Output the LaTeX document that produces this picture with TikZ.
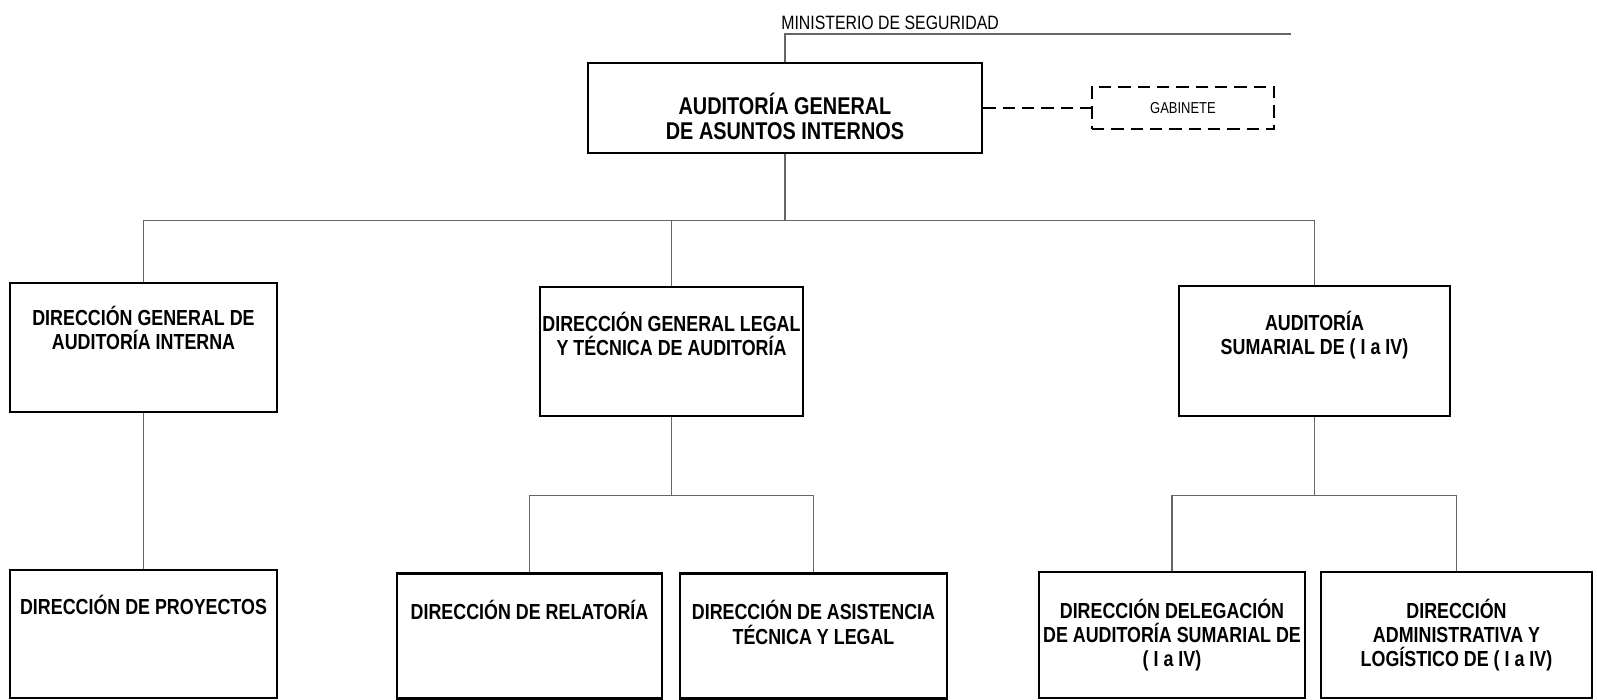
\documentclass[tikz,border=0pt]{standalone}
\usepackage{fontspec}
\setmainfont{Liberation Sans}[FakeStretch=0.82]
\tikzset{
    box/.style={draw, line width=1.6pt, inner sep=0pt},
    gabbox/.style={draw, line width=1.4pt, dash pattern=on 7pt off 4pt, inner sep=0pt},
    link/.style={draw=black!60, line width=0.6pt},
    dashlink/.style={line width=1.4pt, dash pattern=on 7pt off 4pt},
    boxtext/.style={align=center, inner sep=0pt, anchor=north,
        font=\bfseries\fontsize{12.4}{13.8}\selectfont},
}

\begin{document}
\begin{tikzpicture}[x=0.02cm, y=-0.02cm]
\useasboundingbox (0,0) rectangle (1597,700);
    %top level
    \node[box, minimum width=7.88cm, minimum height=1.8cm] (agai) at (785,108) {};
    \node[boxtext, font=\bfseries\fontsize{13.8}{14.2}\selectfont] (agai-t) at ([yshift=-0.62cm]agai.north)
        {AUDITORÍA GENERAL\\DE ASUNTOS INTERNOS};
    \node[gabbox, minimum width=3.64cm, minimum height=0.84cm,
        font=\fontsize{9}{9}\selectfont] (gab) at (1183,108) {GABINETE};
    \coordinate (mins) at (1291,34);
    \node[anchor=base west, inner sep=0pt, font=\fontsize{11}{11}\selectfont] (mins-t) at (781,29.5)
        {MINISTERIO DE SEGURIDAD};
    %second level
    \node[box, minimum width=5.34cm, minimum height=2.58cm] (dgai) at (143.5,347.5) {};
    \node[box, minimum width=5.26cm, minimum height=2.58cm] (dglt) at (671.5,351.5) {};
    \node[box, minimum width=5.42cm, minimum height=2.6cm] (asum) at (1314.5,351) {};
    %third level
    \node[box, minimum width=5.34cm, minimum height=2.56cm] (proy) at (143.5,634) {};
    \node[box, minimum width=5.3cm, minimum height=2.5cm] (relat) at (529.5,636) {};
    \node[box, minimum width=5.34cm, minimum height=2.5cm] (asist) at (813.5,636) {};
    \node[box, minimum width=5.32cm, minimum height=2.52cm] (deleg) at (1172,635) {};
    \node[box, minimum width=5.42cm, minimum height=2.52cm] (admin) at (1456.5,635) {};
    %texts (drop from box top)
    \foreach \n/\d/\t in {dgai/0.48/{DIRECCIÓN GENERAL DE\\AUDITORÍA INTERNA},
        dglt/0.52/{DIRECCIÓN GENERAL LEGAL\\Y TÉCNICA DE AUDITORÍA},
        asum/0.52/{AUDITORÍA\\SUMARIAL DE ( I a IV)},
        proy/0.52/{DIRECCIÓN DE PROYECTOS},
        relat/0.56/{DIRECCIÓN DE RELATORÍA},
        asist/0.56/{DIRECCIÓN DE ASISTENCIA\\TÉCNICA Y LEGAL},
        deleg/0.56/{DIRECCIÓN DELEGACIÓN\\DE AUDITORÍA SUMARIAL DE\\( I a IV)},
        admin/0.56/{DIRECCIÓN\\ADMINISTRATIVA Y\\LOGÍSTICO DE ( I a IV)}}
    {\node[boxtext] (\n-t) at ([yshift=-\d cm]\n.north) {\t};}
    %connectors
    \draw[link] (agai.north) |- (mins);
    \draw[dashlink] (agai.east) -- (gab.west);
    \draw[link] (agai.south) -- ++(0,66) coordinate (bus1);
    \foreach \to in {dgai, dglt, asum}
    {\draw[link] (bus1) -| (\to.north);}
    \draw[link] (dgai.south) -- (proy.north);
    \draw[link] (dglt.south) -- ++(0,78) coordinate (bus2);
    \foreach \to in {relat, asist}
    {\draw[link] (bus2) -| (\to.north);}
    \draw[link] (asum.south) -- ++(0,78) coordinate (bus3);
    \foreach \to in {deleg, admin}
    {\draw[link] (bus3) -| (\to.north);}
\end{tikzpicture}
\end{document}
